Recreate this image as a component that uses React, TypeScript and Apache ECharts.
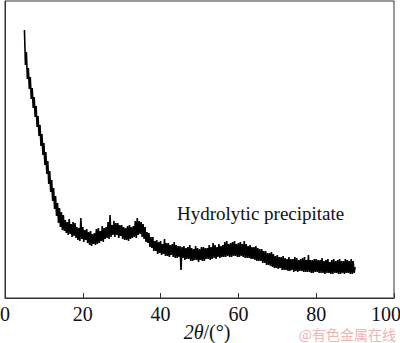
import React, { useEffect, useRef } from "react";
import * as echarts from "echarts";

// 2θ sampling: start 5°, step 0.25°
const thetaStart = 5;
const thetaStep = 0.25;

// Intensity (arbitrary units), 4 samples per degree (5° … 89.75°, then 90°)
const intensity: number[] = [
  268, 233, 246, 219,
  230, 209, 221, 199,
  210, 190, 201, 181,
  192, 171, 182, 162,
  173, 152, 164, 143,
  155, 133, 146, 124,
  137, 114, 127, 106,
  118, 97, 110, 89,
  102, 82, 95, 75,
  90, 71, 86, 68,
  83, 67, 78, 65,
  76, 63, 79, 64,
  74, 61, 76, 62,
  75, 60, 71, 58,
  70, 57, 80, 59,
  71, 56, 68, 58,
  69, 55, 66, 53,
  67, 52, 64, 54,
  65, 53, 69, 54,
  70, 55, 67, 57,
  72, 56, 70, 59,
  71, 60, 76, 59,
  83, 61, 73, 63,
  77, 61, 75, 63,
  75, 60, 73, 62,
  73, 59, 71, 58,
  70, 58, 72, 57,
  73, 59, 71, 60,
  72, 61, 77, 60,
  80, 63, 77, 64,
  76, 61, 74, 59,
  71, 56, 66, 55,
  65, 51, 61, 50,
  61, 47, 57, 47,
  58, 44, 56, 45,
  57, 43, 54, 44,
  59, 42, 55, 42,
  55, 41, 53, 43,
  54, 41, 56, 40,
  53, 40, 52, 41,
  52, 28, 51, 40,
  52, 38, 50, 39,
  51, 39, 53, 37,
  50, 37, 49, 38,
  52, 38, 50, 36,
  49, 38, 51, 37,
  51, 37, 50, 39,
  50, 39, 53, 38,
  51, 39, 55, 40,
  53, 39, 51, 41,
  54, 40, 52, 41,
  53, 41, 56, 41,
  57, 42, 54, 41,
  55, 41, 56, 42,
  57, 42, 54, 41,
  55, 41, 56, 42,
  54, 41, 57, 40,
  54, 40, 52, 40,
  53, 39, 51, 39,
  51, 38, 52, 37,
  50, 37, 49, 37,
  49, 35, 47, 35,
  47, 33, 45, 33,
  45, 32, 46, 31,
  44, 30, 42, 30,
  43, 29, 41, 30,
  41, 28, 42, 28,
  40, 28, 39, 27,
  41, 27, 39, 28,
  39, 26, 41, 27,
  40, 26, 38, 27,
  39, 27, 40, 26,
  41, 26, 38, 26,
  43, 26, 38, 25,
  38, 25, 39, 26,
  39, 26, 38, 25,
  38, 25, 40, 25,
  37, 24, 38, 25,
  39, 25, 36, 24,
  38, 24, 39, 25,
  37, 25, 38, 24,
  39, 24, 37, 25,
  37, 24, 39, 25,
  38, 25, 37, 24,
  39, 24, 37, 25,
  31,
];

const xTicks = [0, 20, 40, 60, 80, 100];
const sampleLabel = "Hydrolytic precipitate";
const watermark = "@有色金属在线";

const SERIF = "Liberation Serif";

export default function App() {
  const ref = useRef<HTMLDivElement>(null);

  useEffect(() => {
    if (!ref.current) return;
    const chart = echarts.init(ref.current, undefined, { renderer: "svg" });
    const data = intensity.map((v, i) => [thetaStart + i * thetaStep, v]);
    const xMax = xTicks[xTicks.length - 1];
    chart.setOption({
      animation: false,
      backgroundColor: "#ffffff",
      grid: {
        left: 5,
        right: 6,
        top: 1,
        bottom: 45,
        containLabel: false,
        outerBoundsMode: "none",
        show: true,
        borderColor: "#333",
        borderWidth: 1,
        backgroundColor: "transparent",
      },
      xAxis: {
        type: "value",
        min: xTicks[0],
        max: xMax,
        interval: 20,
        axisLine: { show: true, lineStyle: { color: "#333", width: 1 } },
        axisTick: { show: true, inside: true, length: 5, lineStyle: { color: "#333" } },
        axisLabel: {
          color: "#111",
          fontFamily: SERIF,
          fontSize: 20,
          margin: 6,
          showMinLabel: true,
          showMaxLabel: true,
          hideOverlap: false,
          formatter: (v: number) => (v === xMax ? `{m|${v}}` : `${v}`),
          rich: {
            m: {
              fontFamily: SERIF,
              fontSize: 20,
              color: "#111",
              padding: [0, 16, 0, 0],
            },
          },
        },
        splitLine: { show: false },
      },
      yAxis: {
        type: "value",
        min: 0,
        max: 297,
        axisLine: { show: true, lineStyle: { color: "#333" } },
        axisTick: { show: false },
        axisLabel: { show: false },
        splitLine: { show: false },
      },
      series: [
        {
          type: "line",
          data,
          showSymbol: false,
          symbol: "none",
          lineStyle: { color: "#000", width: 1.6 },
        },
      ],
      graphic: [
        {
          type: "text",
          left: 177,
          top: 204,
          style: {
            text: sampleLabel,
            fontFamily: SERIF,
            fontSize: 19,
            fill: "#111",
          },
        },
        {
          type: "text",
          x: 207,
          y: 332,
          style: {
            text: `{i|2θ}{n|/(°)}`,
            rich: {
              i: { fontFamily: SERIF, fontSize: 20, fontStyle: "italic", fill: "#111" },
              n: { fontFamily: SERIF, fontSize: 20, fill: "#111" },
            },
            align: "center",
            verticalAlign: "middle",
          },
        },
        {
          type: "text",
          x: 396,
          y: 334,
          style: {
            text: watermark,
            fontFamily: "Noto Sans CJK SC",
            fontSize: 14,
            fill: "#f2b3b3",
            align: "right",
            verticalAlign: "middle",
          },
        },
      ],
    });
    return () => chart.dispose();
  }, []);

  return (
    <div
      ref={ref}
      style={{ position: "fixed", left: 0, top: 0, width: 400, height: 343 }}
    />
  );
}
